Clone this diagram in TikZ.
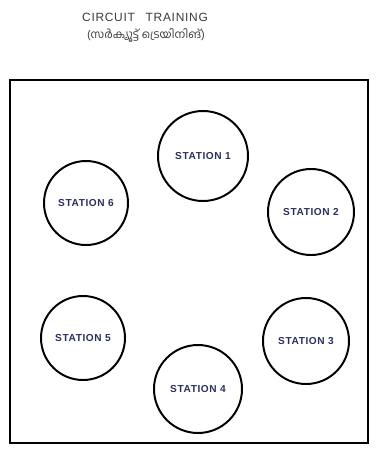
\documentclass[tikz,border=0pt]{standalone}
\usepackage{fontspec}
\newfontfamily\handfont[LetterSpace=6]{Liberation Sans}
\newfontfamily\mlfont[Script=Malayalam]{Hind Kochi}
\definecolor{ink}{HTML}{2B2F5C}
\definecolor{pencil}{HTML}{3A3A3A}
\tikzset{
	station/.style={circle,draw=black,line width=1.4pt,inner sep=0pt,
		font=\handfont\bfseries\fontsize{7.2}{8}\selectfont,text=ink},
	title/.style={font=\handfont\fontsize{8.5}{10}\selectfont,text=pencil},
}

\begin{document}
\begin{tikzpicture}[x=0.025cm,y=-0.025cm]
		\useasboundingbox (0,0) rectangle (381,455);
		% cadre
		\coordinate(TL)at(10,80);
		\coordinate(BR)at(368,443);
		\draw[line width=1.5pt] (TL) rectangle (BR);
		% titre
		\node[title] (titre) at (145,17) {CIRCUIT\hspace{0.9em}TRAINING};
		\node[font=\mlfont\fontsize{8}{9}\selectfont,text=pencil] (soustitre) at (146,36) {(സർക്യൂട്ട് ട്രെയിനിങ്)};
		% stations : nom/x/y/rayon
		\foreach \n/\x/\y/\r in {1/203/156/45,2/311/212/43,3/306/341/43,4/198/389/44,5/83/338/42,6/86/203/42}{%
			\pgfmathsetmacro{\diam}{2*\r*0.025}
			\node[station,minimum size=\diam cm] (st\n) at (\x,\y) {STATION \n};
			}
	\end{tikzpicture}
\end{document}
